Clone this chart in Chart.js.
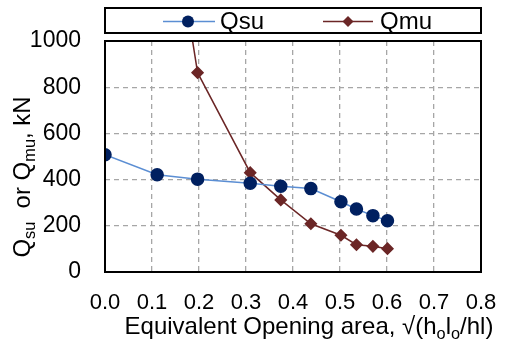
<!DOCTYPE html>
<html><head><meta charset="utf-8">
<script src="https://cdn.jsdelivr.net/npm/chart.js@4/dist/chart.umd.min.js"></script>
<style>html,body{margin:0;padding:0;background:#fff}#wrap{width:505px;height:349px}</style>
</head><body><div id="wrap"><canvas id="c" width="505" height="349"></canvas></div>
<script>
const qsuX = [0.0, 0.111, 0.197, 0.309, 0.374, 0.438, 0.502, 0.535, 0.570, 0.601];
const qsuY = [508, 421, 402, 384, 371, 361, 304, 273, 244, 222];
const qmuX = [0.111, 0.197, 0.309, 0.374, 0.438, 0.502, 0.535, 0.570, 0.601];
const qmuY = [1970, 863, 430, 312, 209, 159, 118, 111, 101];
const seriesNames = ['Qsu', 'Qmu'];
const xTitle = [['Equivalent Opening area, \u221A(h', false], ['o', true], ['l', false], ['o', true], ['/hl)', false]];
const yTitle = [['Q', false], ['su', true], ['  or Q', false], ['mu', true], [', kN', false]];

const FONT = 'Arial, "Liberation Sans", sans-serif';
const C_SU_LINE = '#5B8ED3', C_SU_PT = '#002060', C_MU = '#6B2626';

function drawRich(ctx, parts, size) {
  let w = 0;
  parts.forEach(([t, s]) => { ctx.font = (s ? size * 0.68 : size) + 'px ' + FONT; w += ctx.measureText(t).width; });
  let x = -w / 2;
  parts.forEach(([t, s]) => {
    ctx.font = (s ? size * 0.68 : size) + 'px ' + FONT;
    ctx.fillText(t, x, s ? size * 0.3 : 0);
    x += ctx.measureText(t).width;
  });
}

const deco = {
  id: 'deco',
  afterDatasetsDraw(chart) {
    const ctx = chart.ctx, a = chart.chartArea;
    ctx.save();
    ctx.strokeStyle = '#000'; ctx.lineWidth = 2;
    ctx.strokeRect(a.left, a.top, a.right - a.left, a.bottom - a.top);
    ctx.strokeRect(a.left, 8, a.right - a.left, 25);
    const ly = 21.5;
    ctx.strokeStyle = C_SU_LINE; ctx.lineWidth = 1.5;
    ctx.beginPath(); ctx.moveTo(163, ly); ctx.lineTo(215, ly); ctx.stroke();
    ctx.fillStyle = C_SU_PT; ctx.beginPath(); ctx.arc(188, ly, 6, 0, Math.PI * 2); ctx.fill();
    ctx.strokeStyle = C_MU;
    ctx.beginPath(); ctx.moveTo(323, ly); ctx.lineTo(373, ly); ctx.stroke();
    ctx.fillStyle = C_MU; ctx.beginPath();
    ctx.moveTo(348, ly - 5.5); ctx.lineTo(353.5, ly); ctx.lineTo(348, ly + 5.5); ctx.lineTo(342.5, ly); ctx.closePath(); ctx.fill();
    ctx.fillStyle = '#000'; ctx.font = '24px ' + FONT; ctx.textBaseline = 'middle'; ctx.textAlign = 'left';
    ctx.fillText(seriesNames[0], 220, ly + 1);
    ctx.fillText(seriesNames[1], 380, ly + 1);
    ctx.textBaseline = 'middle';
    ctx.save(); ctx.translate(309, 327); drawRich(ctx, xTitle, 24); ctx.restore();
    ctx.save(); ctx.translate(23, 177); ctx.rotate(-Math.PI / 2); drawRich(ctx, yTitle, 24); ctx.restore();
    ctx.restore();
  }
};

new Chart(document.getElementById('c'), {
  type: 'scatter',
  data: {
    datasets: [
      { label: seriesNames[0], data: qsuX.map((x, i) => ({ x, y: qsuY[i] })), showLine: true,
        borderColor: C_SU_LINE, borderWidth: 1.5, pointBackgroundColor: C_SU_PT, pointBorderColor: C_SU_PT,
        pointRadius: 6, pointStyle: 'circle' },
      { label: seriesNames[1], data: qmuX.map((x, i) => ({ x, y: qmuY[i] })), showLine: true,
        borderColor: C_MU, borderWidth: 1.5, pointBackgroundColor: C_MU, pointBorderColor: C_MU,
        pointRadius: 5.5, pointStyle: 'rectRot' }
    ]
  },
  options: {
    responsive: false, animation: false, devicePixelRatio: 1,
    layout: { padding: { top: 41, right: 24, left: 0, bottom: 0 } },
    plugins: { legend: { display: false }, tooltip: { enabled: false } },
    scales: {
      x: { type: 'linear', min: 0, max: 0.8,
        afterFit(s) { s.height = 77; s.paddingLeft = 0; s.paddingRight = 0; },
        ticks: { stepSize: 0.1, padding: 18, color: '#000', font: { size: 22, family: FONT },
          callback: v => v.toFixed(1) },
        grid: { drawTicks: false, color: '#A6A6A6', lineWidth: 1.3 },
        border: { display: false, dash: [5, 4] } },
      y: { min: 0, max: 1000,
        afterFit(s) { s.width = 105; s.paddingTop = 0; s.paddingBottom = 0; },
        ticks: { stepSize: 200, padding: 24, color: '#000', font: { size: 23, family: FONT },
          callback: v => String(v) },
        grid: { drawTicks: false, color: '#A6A6A6', lineWidth: 1.3 },
        border: { display: false, dash: [5, 4] } }
    }
  },
  plugins: [deco]
});
</script></body></html>
